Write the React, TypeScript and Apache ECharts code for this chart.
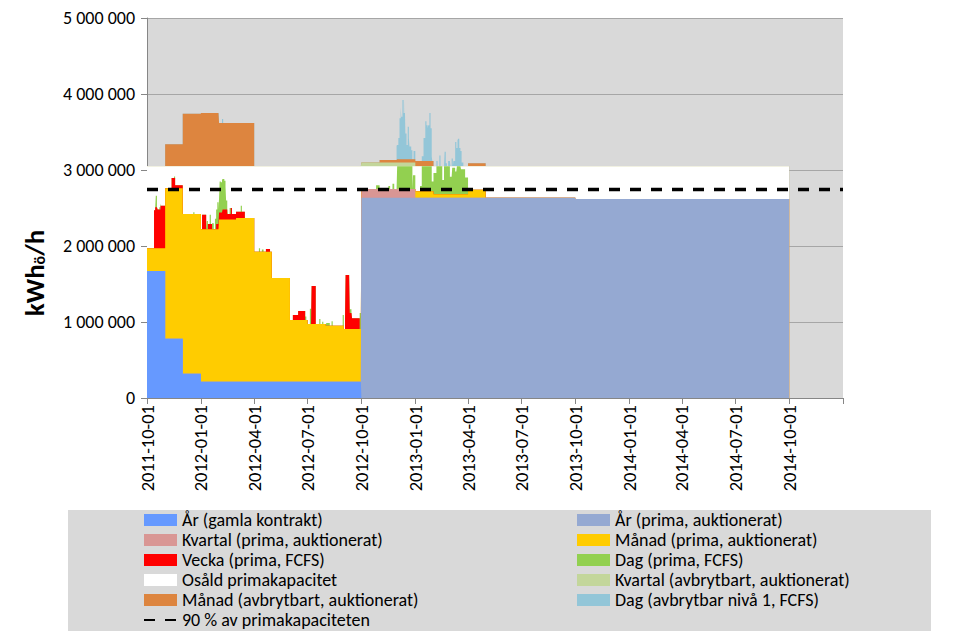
import React, { useEffect, useRef } from 'react';
import * as echarts from 'echarts';

type Step = [string, number];

const FONT = 'Carlito, Lato, sans-serif';

// primary capacity and 90 % line
const capacity: Step[] = [['2011-10-01', 3050000], ['2014-10-01', 0]];
const line90: Step[] = [['2011-10-01', 2745000], ['2015-01-01', 2745000]];

// each list: [date from which the value holds, value]
const arGamla: Step[] = [
  ['2011-10-01', 1670000], ['2011-11-01', 780000], ['2011-12-01', 320000],
  ['2012-01-01', 215000], ['2012-10-01', 0],
];
const arPrima: Step[] = [
  ['2012-10-01', 2635000], ['2013-10-01', 2620000], ['2014-10-01', 0],
];
const kvartalPrima: Step[] = [['2012-10-01', 115000], ['2013-01-01', 0]];
const manadPrima: Step[] = [
  ['2011-10-01', 300000], ['2011-11-01', 1980000], ['2011-12-01', 2100000],
  ['2012-01-01', 2005000], ['2012-02-01', 2135000], ['2012-03-01', 2155000],
  ['2012-04-01', 1710000], ['2012-05-01', 1365000], ['2012-06-01', 811000],
  ['2012-07-01', 759000], ['2012-08-01', 736000], ['2012-09-01', 693000],
  ['2012-10-01', 0], ['2013-01-01', 85000], ['2013-02-01', 45000],
  ['2013-04-01', 105000], ['2013-05-01', 0],
];
const veckaPrima: Step[] = [
  ['2011-10-13', 500000], ['2011-10-15', 540000], ['2011-10-19', 510000],
  ['2011-10-24', 560000], ['2011-11-01', 0], ['2011-11-12', 135000],
  ['2011-11-18', 40000], ['2011-12-01', 0], ['2012-01-03', 190000],
  ['2012-01-10', 0], ['2012-01-13', 70000], ['2012-01-20', 0],
  ['2012-01-27', 70000], ['2012-02-01', 90000], ['2012-02-07', 130000],
  ['2012-02-15', 70000], ['2012-02-21', 150000], ['2012-02-23', 70000],
  ['2012-03-01', 80000], ['2012-03-16', 0], ['2012-04-21', 35000],
  ['2012-04-28', 0], ['2012-06-06', 65000], ['2012-06-15', 120000],
  ['2012-06-27', 0], ['2012-07-08', 500000], ['2012-07-15', 0],
  ['2012-09-03', 130000], ['2012-09-04', 710000], ['2012-09-11', 210000],
  ['2012-09-15', 140000], ['2012-09-28', 0],
];
const dagPrima: Step[] = [
  ['2011-10-16', 150000], ['2011-10-18', 0], ['2011-10-22', 30000], ['2011-10-25', 0],
  ['2011-11-16', 20000], ['2011-11-18', 0], ['2011-12-19', 25000], ['2011-12-21', 0],
  ['2012-01-11', 110000], ['2012-01-13', 0], ['2012-01-16', 120000], ['2012-01-18', 0],
  ['2012-01-20', 80000], ['2012-01-23', 0], ['2012-01-25', 140000], ['2012-01-27', 190000],
  ['2012-01-29', 285000], ['2012-01-31', 190000], ['2012-02-02', 410000], ['2012-02-04', 400000],
  ['2012-02-06', 430000], ['2012-02-07', 400000], ['2012-02-10', 380000], ['2012-02-12', 300000],
  ['2012-02-13', 120000], ['2012-02-15', 60000], ['2012-02-16', 0], ['2012-02-19', 80000],
  ['2012-02-21', 0], ['2012-03-09', 80000], ['2012-03-11', 0], ['2012-04-09', 45000],
  ['2012-04-11', 0], ['2012-04-14', 30000], ['2012-04-17', 0], ['2012-06-27', 45000],
  ['2012-06-29', 0], ['2012-07-05', 200000], ['2012-07-07', 0], ['2012-07-21', 65000],
  ['2012-07-23', 0], ['2012-07-26', 30000], ['2012-07-28', 0], ['2012-08-02', 35000],
  ['2012-08-08', 0], ['2012-08-11', 60000], ['2012-08-13', 0], ['2012-08-30', 140000],
  ['2012-09-01', 0], ['2012-09-10', 50000], ['2012-09-14', 0], ['2012-09-28', 210000],
  ['2012-09-30', 100000], ['2012-10-01', 0], ['2012-10-26', 50000], ['2012-11-01', 0],
  ['2012-11-16', 40000], ['2012-11-19', 0], ['2012-11-23', 70000], ['2012-11-26', 0],
  ['2012-12-01', 300000], ['2012-12-27', 0], ['2012-12-28', 180000], ['2013-01-01', 0],
  ['2013-01-09', 70000], ['2013-01-12', 330000], ['2013-01-29', 130000], ['2013-02-01', 280000],
  ['2013-02-06', 370000], ['2013-02-16', 190000], ['2013-02-19', 370000], ['2013-03-01', 230000],
  ['2013-03-05', 350000], ['2013-03-10', 300000], ['2013-03-13', 370000], ['2013-03-20', 330000],
  ['2013-03-27', 220000], ['2013-04-01', 0],
];
const kvartalAvb: Step[] = [['2012-10-01', 50000], ['2013-01-01', 0]];
const manadAvb: Step[] = [
  ['2011-11-01', 290000], ['2011-12-01', 690000], ['2012-01-01', 700000],
  ['2012-02-01', 570000], ['2012-04-01', 0], ['2012-11-01', 30000],
  ['2012-12-01', 40000], ['2013-01-01', 70000], ['2013-02-01', 0],
  ['2013-04-01', 40000], ['2013-05-01', 0],
];
const dagAvb: Step[] = [
  ['2012-02-06', 50000], ['2012-02-08', 0],
  ['2012-11-30', 190000], ['2012-12-03', 280000], ['2012-12-05', 540000], ['2012-12-07', 690000],
  ['2012-12-08', 560000], ['2012-12-10', 780000], ['2012-12-12', 610000], ['2012-12-14', 760000],
  ['2012-12-15', 340000], ['2012-12-17', 190000], ['2012-12-19', 430000], ['2012-12-21', 280000],
  ['2012-12-22', 170000], ['2012-12-25', 120000], ['2012-12-27', 0], ['2012-12-29', 110000],
  ['2013-01-01', 0], ['2013-01-12', 60000], ['2013-01-15', 300000], ['2013-01-18', 520000],
  ['2013-01-20', 470000], ['2013-01-22', 430000], ['2013-01-23', 470000], ['2013-01-25', 630000],
  ['2013-01-27', 430000], ['2013-01-29', 60000], ['2013-01-30', 0], ['2013-02-06', 70000],
  ['2013-02-08', 0], ['2013-02-11', 140000], ['2013-02-13', 0], ['2013-02-20', 190000],
  ['2013-02-22', 40000], ['2013-02-24', 0], ['2013-02-26', 70000], ['2013-03-02', 0],
  ['2013-03-04', 100000], ['2013-03-06', 0], ['2013-03-07', 70000], ['2013-03-10', 320000],
  ['2013-03-12', 240000], ['2013-03-14', 340000], ['2013-03-15', 360000], ['2013-03-17', 240000],
  ['2013-03-19', 200000], ['2013-03-21', 50000], ['2013-03-24', 0],
];

const tickDates = [
  '2011-10-01', '2012-01-01', '2012-04-01', '2012-07-01', '2012-10-01', '2013-01-01',
  '2013-04-01', '2013-07-01', '2013-10-01', '2014-01-01', '2014-04-01', '2014-07-01',
  '2014-10-01', '2015-01-01',
];
const labelDates = tickDates.slice(0, 13);

const names = {
  arGamla: 'År (gamla kontrakt)',
  arPrima: 'År (prima, auktionerat)',
  kvartalPrima: 'Kvartal (prima, auktionerat)',
  manadPrima: 'Månad (prima, auktionerat)',
  vecka: 'Vecka (prima, FCFS)',
  dagPrima: 'Dag (prima, FCFS)',
  osald: 'Osåld primakapacitet',
  kvartalAvb: 'Kvartal (avbrytbart, auktionerat)',
  manadAvb: 'Månad (avbrytbart, auktionerat)',
  dagAvb: 'Dag (avbrytbar nivå 1, FCFS)',
  line90: '90 % av primakapaciteten',
};

const colors = {
  arGamla: '#6699FF',
  arPrima: '#95A9D2',
  kvartalPrima: '#D99694',
  manadPrima: '#FFCC00',
  vecka: '#FF0000',
  dagPrima: '#92D050',
  osald: '#FFFFFF',
  kvartalAvb: '#C3D69B',
  manadAvb: '#DD853F',
  dagAvb: '#93C6D8',
};

function ts(s: string): number {
  const [y, m, d] = s.split('-').map(Number);
  return Date.UTC(y, m - 1, d);
}
function fmtDate(v: number): string {
  const d = new Date(v);
  const p = (n: number) => (n < 10 ? '0' + n : '' + n);
  return d.getUTCFullYear() + '-' + p(d.getUTCMonth() + 1) + '-' + p(d.getUTCDate());
}

const stepLists = [arGamla, arPrima, kvartalPrima, manadPrima, veckaPrima, dagPrima, kvartalAvb, manadAvb, dagAvb, capacity];
const times = Array.from(new Set(stepLists.flatMap((s) => s.map((p) => ts(p[0]))))).sort((a, b) => a - b);

function valueAt(steps: Step[], t: number): number {
  let v = 0;
  for (const [d, val] of steps) {
    if (ts(d) <= t) v = val;
    else break;
  }
  return v;
}
// cumulative (stacked) top of a layer = sum of the layers below it and itself
const cumData = (layers: Step[][]) =>
  times.map((t) => [t, layers.reduce((s, l) => s + valueAt(l, t), 0)]);

function area(name: string, layers: Step[][], color: string) {
  return {
    name,
    type: 'line',
    step: 'end',
    data: cumData(layers),
    symbol: 'none',
    showSymbol: false,
    lineStyle: { width: 0, color },
    itemStyle: { color },
    areaStyle: { color, opacity: 1 },
    emphasis: { disabled: true },
    silent: true,
  };
}

export default function App() {
  const ref = useRef<HTMLDivElement>(null);
  useEffect(() => {
    if (!ref.current) return;
    const chart = echarts.init(ref.current, undefined, { renderer: 'svg' });
    const legendText = { fontSize: 18, fontFamily: FONT, color: '#000', lineHeight: 18 };
    const rectItem = (n: string) => ({ name: n, icon: 'rect' });
    const primaStack = [arGamla, arPrima, kvartalPrima, manadPrima, veckaPrima, dagPrima];
    const avbStack = [capacity, kvartalAvb, manadAvb, dagAvb];
    chart.setOption({
      animation: false,
      backgroundColor: '#FFFFFF',
      grid: {
        left: 147, top: 18, width: 696, height: 380,
        show: true, backgroundColor: '#D9D9D9', borderWidth: 0,
      },
      xAxis: {
        type: 'value',
        min: ts('2011-10-01'),
        max: ts('2015-01-01'),
        axisLine: { show: true, onZero: false, lineStyle: { color: '#868686', width: 1 } },
        axisTick: { show: true, length: 6, lineStyle: { color: '#868686' }, customValues: tickDates.map(ts) },
        axisLabel: {
          rotate: 90,
          customValues: labelDates.map(ts),
          formatter: (v: number) => fmtDate(v),
          fontSize: 18.5, fontFamily: FONT, color: '#000', margin: 7,
          hideOverlap: false,
        },
        splitLine: { show: false },
      },
      yAxis: {
        type: 'value',
        min: 0, max: 5000000, interval: 1000000,
        axisLine: { show: true, lineStyle: { color: '#868686', width: 1 } },
        axisTick: { show: true, length: 6, lineStyle: { color: '#868686' } },
        axisLabel: {
          fontSize: 18, fontFamily: FONT, color: '#000', margin: 12,
          formatter: (v: number) => String(v).replace(/\B(?=(\d{3})+(?!\d))/g, ' '),
        },
        splitLine: { show: true, lineStyle: { color: '#A6A6A6', width: 1 } },
      },
      legend: [
        {
          orient: 'vertical', left: 143, top: 511, padding: 0, itemWidth: 33, itemHeight: 12, itemGap: 2,
          selectedMode: false, textStyle: legendText, itemStyle: { borderWidth: 0 },
          data: [
            rectItem(names.arGamla), rectItem(names.kvartalPrima), rectItem(names.vecka),
            rectItem(names.osald), rectItem(names.manadAvb),
            { name: names.line90, itemStyle: { color: 'rgba(0,0,0,0)', borderWidth: 0 } },
          ],
        },
        {
          orient: 'vertical', left: 577, top: 511, padding: 0, itemWidth: 33, itemHeight: 12, itemGap: 2,
          selectedMode: false, textStyle: legendText, itemStyle: { borderWidth: 0 },
          data: [
            rectItem(names.arPrima), rectItem(names.manadPrima), rectItem(names.dagPrima),
            rectItem(names.kvartalAvb), rectItem(names.dagAvb),
          ],
        },
      ],
      graphic: [
        {
          type: 'rect', z: 0, silent: true,
          shape: { x: 68, y: 510, width: 863, height: 121 },
          style: { fill: '#D9D9D9' },
        },
        {
          type: 'text', z: 10, x: 34, y: 273, rotation: Math.PI / 2, silent: true,
          style: {
            text: '{a|kWh}{b|ö}{a|/h}',
            align: 'center', verticalAlign: 'middle',
            rich: {
              a: { fontSize: 27, lineHeight: 27, fontWeight: 'bold', fontFamily: FONT, fill: '#000' },
              b: { fontSize: 16, lineHeight: 16, fontWeight: 'bold', fontFamily: FONT, fill: '#000', padding: [11, 0, 0, 0] },
            },
          },
        },
      ],
      // painted from the top of each stack downwards, so each lower layer covers the one above it
      series: [
        area(names.dagAvb, avbStack, colors.dagAvb),
        area(names.manadAvb, avbStack.slice(0, 3), colors.manadAvb),
        area(names.kvartalAvb, avbStack.slice(0, 2), colors.kvartalAvb),
        area(names.osald, [capacity], colors.osald),
        area(names.dagPrima, primaStack, colors.dagPrima),
        area(names.vecka, primaStack.slice(0, 5), colors.vecka),
        area(names.manadPrima, primaStack.slice(0, 4), colors.manadPrima),
        area(names.kvartalPrima, primaStack.slice(0, 3), colors.kvartalPrima),
        area(names.arPrima, primaStack.slice(0, 2), colors.arPrima),
        area(names.arGamla, primaStack.slice(0, 1), colors.arGamla),
        {
          name: names.line90, type: 'line', data: line90.map((p) => [ts(p[0]), p[1]]),
          symbol: 'none', showSymbol: false, silent: true, emphasis: { disabled: true },
          itemStyle: { color: '#000' },
          lineStyle: { color: '#000', width: 3.5, type: [11, 10] },
          z: 5,
        },
      ],
    });
    return () => chart.dispose();
  }, []);
  return (
    <div
      ref={ref}
      style={{ position: 'fixed', left: 0, top: 0, width: 977, height: 639, background: '#fff' }}
    />
  );
}
